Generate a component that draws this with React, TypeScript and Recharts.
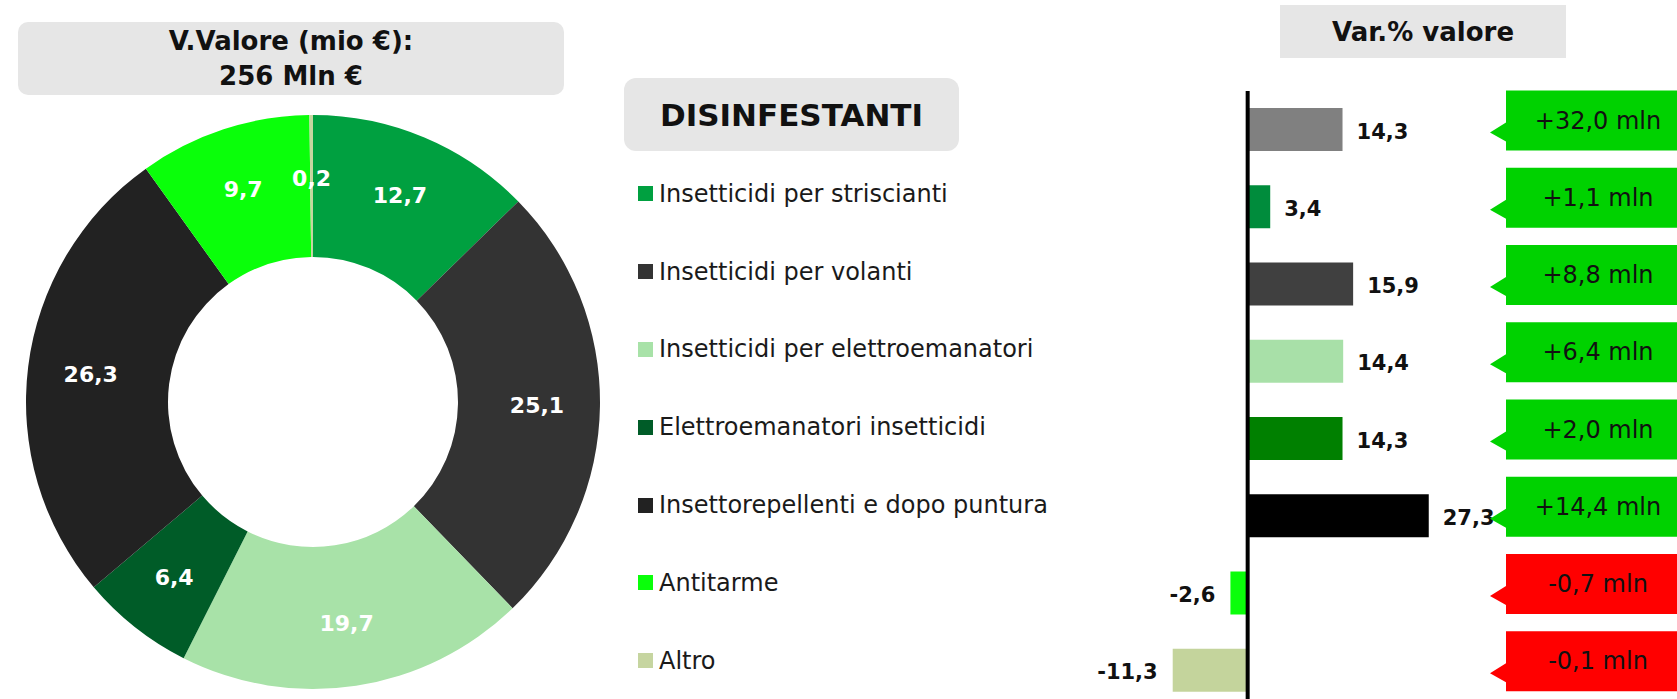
import { PieChart, Pie, Cell, BarChart, Bar, XAxis, YAxis, ReferenceLine, LabelList } from "recharts";

const FONT = "'DejaVu Sans', sans-serif";

// quota a valore per segmento (%)
const categories = [
  "Insetticidi per striscianti",
  "Insetticidi per volanti",
  "Insetticidi per elettroemanatori",
  "Elettroemanatori insetticidi",
  "Insettorepellenti e dopo puntura",
  "Antitarme",
  "Altro",
];
const sharePct = [12.7, 25.1, 19.7, 6.4, 26.3, 9.7, 0.2];
const pieColors = ["#00A040", "#333333", "#A8E2A8", "#005C28", "#222222", "#0AFF0A", "#C6D5A0"];

// var.% valore: totale + segmenti
const barNames = ["Totale", ...categories];
const varPct = [14.3, 3.4, 15.9, 14.4, 14.3, 27.3, -2.6, -11.3];
const varMln = [32.0, 1.1, 8.8, 6.4, 2.0, 14.4, -0.7, -0.1];
const barColors = ["#808080", "#008C3C", "#404040", "#A8E0A8", "#008000", "#000000", "#0AFF0A", "#C4D49C"];

const pieData = categories.map((name, i) => ({ name, value: sharePct[i] }));
const barData = barNames.map((name, i) => ({ name, pct: varPct[i], mln: varMln[i] }));

const fmt = (v: number) => v.toFixed(1).replace(".", ",");

const RADIAN = Math.PI / 180;

function PieLabel(props: any) {
  const { cx, cy, midAngle, innerRadius, outerRadius, value } = props;
  const r = (innerRadius + outerRadius) / 2 + 8;
  const x = cx + r * Math.cos(-midAngle * RADIAN);
  const y = cy + r * Math.sin(-midAngle * RADIAN);
  return (
    <text x={x} y={y} fill="#fff" fontFamily={FONT} fontWeight="bold" fontSize={22}
      textAnchor="middle" dominantBaseline="central">
      {fmt(value)}
    </text>
  );
}

function ValueLabel(props: any) {
  const vb = props.viewBox ?? props;
  const { x, y, width, height } = vb;
  const v = Number(props.value);
  const left = Math.min(x, x + width);
  const right = Math.max(x, x + width);
  const cy = y + height / 2 + 2;
  return (
    <text x={v >= 0 ? right + 14 : left - 15} y={cy} fill="#111" fontFamily={FONT} fontWeight="bold"
      fontSize={21} textAnchor={v >= 0 ? "start" : "end"} dominantBaseline="central">
      {fmt(v)}
    </text>
  );
}

function Callout(props: any) {
  const vb = props.viewBox ?? props;
  const { y, height } = vb;
  const v = Number(props.value);
  const top = y + height / 2 - 39;
  const h = 60;
  const l = 446;
  const r = 640;
  const d = `M${l},${top} H${r} V${top + h} H${l} V${top + 51} L${l - 16},${top + 42} L${l},${top + 32} Z`;
  return (
    <g>
      <path d={d} fill={v >= 0 ? "#00D200" : "#FF0000"} />
      <text x={538} y={top + 30} fill="#111" fontFamily={FONT} fontSize={24}
        textAnchor="middle" dominantBaseline="central">
        {(v > 0 ? "+" : "") + fmt(v) + " mln"}
      </text>
    </g>
  );
}

const box = {
  position: "absolute" as const,
  background: "#E6E6E6",
  display: "flex",
  alignItems: "center",
  justifyContent: "center",
  textAlign: "center" as const,
  fontFamily: FONT,
  fontWeight: "bold" as const,
  color: "#111",
};

export default function App() {
  return (
    <div style={{ position: "absolute", left: 0, top: 0, width: 1677, height: 699, overflow: "hidden", background: "#fff" }}>
      <div style={{ ...box, left: 18, top: 22, width: 546, height: 73, borderRadius: 10, fontSize: 26, lineHeight: "35px" }}>
        V.Valore (mio €):<br />256 Mln €
      </div>

      <div style={{ position: "absolute", left: 8, top: 97 }}>
        <PieChart width={600} height={600}>
          <Pie data={pieData} dataKey="value" cx={300} cy={300} innerRadius={145} outerRadius={287}
            startAngle={90} endAngle={-270} stroke="none" labelLine={false} label={PieLabel}
            isAnimationActive={false}>
            {pieData.map((d, i) => (
              <Cell key={d.name} fill={pieColors[i]} />
            ))}
          </Pie>
        </PieChart>
      </div>

      <div style={{ ...box, left: 624, top: 78, width: 335, height: 73, borderRadius: 12, fontSize: 31 }}>
        DISINFESTANTI
      </div>
      <div style={{ position: "absolute", left: 638, top: 155 }}>
        {categories.map((c, i) => (
          <div key={c} style={{ height: 77.8, display: "flex", alignItems: "center", fontFamily: FONT, fontSize: 24, color: "#1a1a1a", whiteSpace: "nowrap" }}>
            <span style={{ display: "inline-block", width: 15, height: 15, background: pieColors[i], marginRight: 6 }} />
            {c}
          </div>
        ))}
      </div>

      <div style={{ ...box, left: 1280, top: 5, width: 286, height: 53, fontSize: 26 }}>
        Var.% valore
      </div>

      <div style={{ position: "absolute", left: 1060, top: 0 }}>
        <BarChart width={617} height={720} data={barData} layout="vertical"
          margin={{ top: 91, right: 164, bottom: 11, left: 55 }}>
          <XAxis type="number" domain={[-20, 40]} hide />
          <YAxis type="category" dataKey="name" hide />
          <Bar dataKey="pct" barSize={43} isAnimationActive={false}>
            {barData.map((d, i) => (
              <Cell key={d.name} fill={barColors[i]} />
            ))}
            <LabelList dataKey="pct" content={ValueLabel} />
            <LabelList dataKey="mln" content={Callout} />
          </Bar>
          <ReferenceLine x={0} stroke="#000" strokeWidth={4} />
        </BarChart>
      </div>
    </div>
  );
}
